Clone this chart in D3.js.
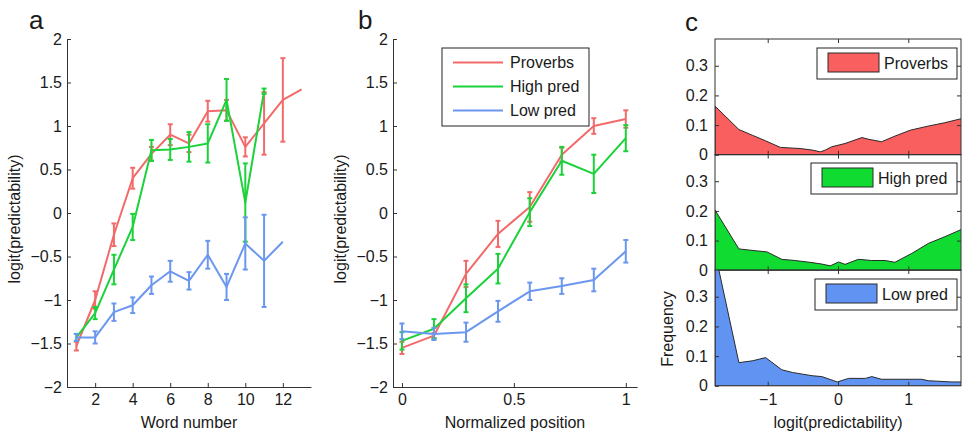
<!DOCTYPE html>
<html>
<head>
<meta charset="utf-8">
<script src="https://cdn.jsdelivr.net/npm/d3@7"></script>
<style>
body { margin: 0; background: #fff; }
text { font-family: "Liberation Sans", Arial, sans-serif; fill: #1a1a1a; }
</style>
</head>
<body>
<svg id="fig" width="962" height="432"></svg>
<script>
"use strict";

// ---- panel a: predictability by word number ----
var wordNumber = [1, 2, 3, 4, 5, 6, 7, 8, 9, 10, 11, 12, 13]
var provA = [-1.53, -1.0, -0.25, 0.4, 0.68, 0.9, 0.8, 1.17, 1.18, 0.76, 1.03, 1.3, 1.42]
var provAErr = [0.05, 0.1, 0.13, 0.12, 0.08, 0.12, 0.1, 0.12, 0.12, 0.11, 0.36, 0.48, 0]
var highA = [-1.43, -1.15, -0.65, -0.16, 0.72, 0.73, 0.76, 0.8, 1.3, 0.12, 1.4]
var highAErr = [0.04, 0.07, 0.17, 0.15, 0.12, 0.12, 0.17, 0.22, 0.24, 0.45, 0.03]
var lowA = [-1.43, -1.43, -1.14, -1.06, -0.83, -0.67, -0.78, -0.48, -0.85, -0.35, -0.55, -0.33]
var lowAErr = [0.04, 0.07, 0.1, 0.09, 0.1, 0.12, 0.1, 0.16, 0.15, 0.3, 0.53, 0]

// ---- panel b: predictability by normalized position ----
var normPos = [0, 0.143, 0.286, 0.429, 0.571, 0.714, 0.857, 1]
var provB = [-1.55, -1.41, -0.7, -0.24, 0.07, 0.67, 1.0, 1.08]
var provBErr = [0.07, 0.03, 0.15, 0.15, 0.17, 0.08, 0.09, 0.1]
var highB = [-1.47, -1.33, -0.98, -0.64, 0.01, 0.6, 0.45, 0.86]
var highBErr = [0.1, 0.11, 0.16, 0.17, 0.16, 0.16, 0.22, 0.15]
var lowB = [-1.36, -1.39, -1.37, -1.13, -0.9, -0.84, -0.77, -0.44]
var lowBErr = [0.09, 0.07, 0.11, 0.12, 0.1, 0.09, 0.13, 0.13]

// ---- panel c: frequency of logit(predictability) ----
var provDensX = [-1.75, -1.41, -1.22, -1.03, -0.82, -0.53, -0.37, -0.25, -0.18, -0.09, 0.1, 0.34, 0.44, 0.62, 0.81, 1.03, 1.29, 1.52, 1.76]
var provDens = [0.164, 0.085, 0.066, 0.047, 0.025, 0.021, 0.016, 0.01, 0.016, 0.027, 0.038, 0.058, 0.052, 0.044, 0.063, 0.083, 0.097, 0.108, 0.122]
var highDensX = [-1.75, -1.41, -1.18, -1.01, -0.8, -0.61, -0.37, -0.23, -0.11, 0.01, 0.1, 0.29, 0.48, 0.67, 0.81, 1.05, 1.29, 1.52, 1.76]
var highDens = [0.203, 0.072, 0.066, 0.062, 0.037, 0.033, 0.026, 0.021, 0.015, 0.028, 0.02, 0.037, 0.033, 0.033, 0.027, 0.057, 0.091, 0.113, 0.138]
var lowDensX = [-1.75, -1.41, -1.22, -1.03, -0.8, -0.65, -0.37, -0.23, -0.01, 0.15, 0.39, 0.48, 0.62, 1.19, 1.29, 1.62, 1.76]
var lowDens = [0.45, 0.078, 0.084, 0.095, 0.054, 0.045, 0.034, 0.031, 0.013, 0.025, 0.025, 0.031, 0.022, 0.022, 0.017, 0.013, 0.013]

var seriesNames = ["Proverbs", "High pred", "Low pred"]
var lineColors = ["#f26a6a", "#1bd23a", "#6b97ee"]
var fillColors = ["#f95f5f", "#10db30", "#6193f2"]
var axisColor = "#333"

var svg = d3.select("#fig")
svg.append("rect").attr("width", 962).attr("height", 432).attr("fill", "#fff")

var fmt = function(d) { return d3.format("")(d).replace("-", "\u2212") }

function styleAxis(g) {
    g.selectAll("path").attr("stroke", axisColor)
    g.selectAll("line").attr("stroke", axisColor)
    g.selectAll("text").attr("font-size", 16).attr("fill", "#1a1a1a")
        .attr("font-family", "Liberation Sans, Arial, sans-serif")
}

function drawSeries(g, x, y, xs, vals, errs, color) {
    var pts = vals.map(function(v, i) { return { x: xs[i], y: v, e: errs[i] } })
    var line = d3.line().x(function(d) { return x(d.x) }).y(function(d) { return y(d.y) })
    var bars = g.append("g")
    pts.filter(function(d) { return d.e > 0 }).forEach(function(d) {
        var cx = x(d.x)
        bars.append("line").attr("x1", cx).attr("x2", cx)
            .attr("y1", y(d.y - d.e)).attr("y2", y(d.y + d.e))
        bars.append("line").attr("x1", cx - 2.5).attr("x2", cx + 2.5)
            .attr("y1", y(d.y - d.e)).attr("y2", y(d.y - d.e))
        bars.append("line").attr("x1", cx - 2.5).attr("x2", cx + 2.5)
            .attr("y1", y(d.y + d.e)).attr("y2", y(d.y + d.e))
    })
    bars.selectAll("line").attr("stroke", color).attr("stroke-width", 2)
    g.append("path").datum(pts).attr("d", line)
        .attr("fill", "none").attr("stroke", color).attr("stroke-width", 2)
        .attr("stroke-linejoin", "round")
}

function linePanel(x, y, xTicks, xFormat, xLabel, labelX, data) {
    var g = svg.append("g")
    data.forEach(function(s, i) {
        drawSeries(g, x, y, s[0], s[1], s[2], lineColors[i])
    })
    var ax = g.append("g").attr("transform", "translate(0," + y.range()[0] + ")")
        .call(d3.axisBottom(x).tickValues(xTicks).tickFormat(xFormat)
            .tickSizeInner(-4).tickSizeOuter(0).tickPadding(7))
    styleAxis(ax)
    var ay = g.append("g").attr("transform", "translate(" + x.range()[0] + ",0)")
        .call(d3.axisLeft(y).tickValues(d3.range(-2, 2.01, 0.5)).tickFormat(fmt)
            .tickSizeInner(-4).tickSizeOuter(0).tickPadding(5))
    styleAxis(ay)
    var cx = (x.range()[0] + x.range()[1]) / 2
    g.append("text").attr("x", cx).attr("y", 428).attr("text-anchor", "middle")
        .attr("font-size", 16).text(xLabel)
    g.append("text").attr("transform", "translate(" + labelX + ",219) rotate(-90)")
        .attr("text-anchor", "middle").attr("font-size", 16).text("logit(predictability)")
    return g
}

// panel a
var xA = d3.scaleLinear().domain([0.5, 13.5]).range([67, 311])
var yA = d3.scaleLinear().domain([-2, 2]).range([387, 39])
linePanel(xA, yA, [2, 4, 6, 8, 10, 12], d3.format("d"), "Word number", 20, [
    [wordNumber, provA, provAErr],
    [wordNumber, highA, highAErr],
    [wordNumber, lowA, lowAErr]
])

// panel b
var xB = d3.scaleLinear().domain([-0.04, 1.05]).range([393, 637])
var yB = d3.scaleLinear().domain([-2, 2]).range([387, 39])
var gB = linePanel(xB, yB, [0, 0.5, 1], d3.format(""), "Normalized position", 346, [
    [normPos, provB, provBErr],
    [normPos, highB, highBErr],
    [normPos, lowB, lowBErr]
])

var legB = gB.append("g").attr("transform", "translate(442,48)")
legB.append("rect").attr("width", 147).attr("height", 78)
    .attr("fill", "#fff").attr("stroke", "#222").attr("stroke-width", 1)
seriesNames.forEach(function(n, i) {
    var ly = 14.5 + i * 24
    legB.append("line").attr("x1", 11).attr("x2", 61).attr("y1", ly).attr("y2", ly)
        .attr("stroke", lineColors[i]).attr("stroke-width", 2)
    legB.append("text").attr("x", 68).attr("y", ly + 5.5).attr("font-size", 16).text(n)
})

// panel c
var xC = d3.scaleLinear().domain([-1.75, 1.75]).range([715, 961])
var subTops = [39, 154.5, 270]
var subH = 115.8
var densData = [[provDensX, provDens], [highDensX, highDens], [lowDensX, lowDens]]
var legendBoxes = [[817, 48, 140], [811, 163, 146], [815, 279, 142]]

densData.forEach(function(dd, i) {
    var top = subTops[i]
    var yC = d3.scaleLinear().domain([0, 0.39]).range([top + subH, top])
    var g = svg.append("g")
    var clipId = "clip" + i
    g.append("clipPath").attr("id", clipId).append("rect")
        .attr("x", 715).attr("y", top).attr("width", 246).attr("height", subH)
    var pts = dd[0].map(function(xv, k) { return [xv, dd[1][k]] })
    var area = d3.area().x(function(d) { return xC(d[0]) })
        .y0(yC(0)).y1(function(d) { return yC(d[1]) })
    g.append("path").datum(pts).attr("d", area).attr("clip-path", "url(#" + clipId + ")")
        .attr("fill", fillColors[i]).attr("stroke", "#2a2a2a").attr("stroke-width", 1)

    var box = g.append("g")
    box.append("rect").attr("x", 715).attr("y", top).attr("width", 246).attr("height", subH)
        .attr("fill", "none").attr("stroke", axisColor).attr("stroke-width", 1)
    var ay = g.append("g").attr("transform", "translate(715,0)")
        .call(d3.axisLeft(yC).tickValues([0, 0.1, 0.2, 0.3])
            .tickFormat(function(d) { return d === 0 ? "0" : d3.format(".1f")(d) })
            .tickSizeInner(-4).tickSizeOuter(0).tickPadding(7))
    styleAxis(ay)
    ay.select(".domain").remove()
    var ayr = g.append("g").attr("transform", "translate(961,0)")
        .call(d3.axisRight(yC).tickValues([0.1, 0.2, 0.3]).tickFormat("")
            .tickSizeInner(-4).tickSizeOuter(0))
    styleAxis(ayr)
    ayr.select(".domain").remove()
    var axt = g.append("g").attr("transform", "translate(0," + top + ")")
        .call(d3.axisTop(xC).tickValues([-1, 0, 1]).tickFormat("")
            .tickSizeInner(-4).tickSizeOuter(0))
    styleAxis(axt)
    axt.select(".domain").remove()
    var axb = g.append("g").attr("transform", "translate(0," + (top + subH) + ")")
        .call(d3.axisBottom(xC).tickValues([-1, 0, 1])
            .tickFormat(i === 2 ? fmt : "")
            .tickSizeInner(-4).tickSizeOuter(0).tickPadding(8))
    styleAxis(axb)
    axb.select(".domain").remove()

    var lb = legendBoxes[i]
    var leg = g.append("g").attr("transform", "translate(" + lb[0] + "," + lb[1] + ")")
    leg.append("rect").attr("width", lb[2]).attr("height", 31)
        .attr("fill", "#fff").attr("stroke", "#222").attr("stroke-width", 1)
    leg.append("rect").attr("x", 11).attr("y", 5).attr("width", 51).attr("height", 19)
        .attr("fill", fillColors[i]).attr("stroke", "#2a2a2a").attr("stroke-width", 1)
    leg.append("text").attr("x", 67).attr("y", 21).attr("font-size", 16).text(seriesNames[i])
})

svg.append("text").attr("x", 838).attr("y", 428).attr("text-anchor", "middle")
    .attr("font-size", 16).text("logit(predictability)")
svg.append("text").attr("transform", "translate(673,329) rotate(-90)")
    .attr("text-anchor", "middle").attr("font-size", 16).text("Frequency")

// panel letters
svg.append("text").attr("x", 29).attr("y", 29).attr("font-size", 26).text("a")
svg.append("text").attr("x", 358).attr("y", 29).attr("font-size", 26).text("b")
svg.append("text").attr("x", 685).attr("y", 31).attr("font-size", 26).text("c")
</script>
</body>
</html>
